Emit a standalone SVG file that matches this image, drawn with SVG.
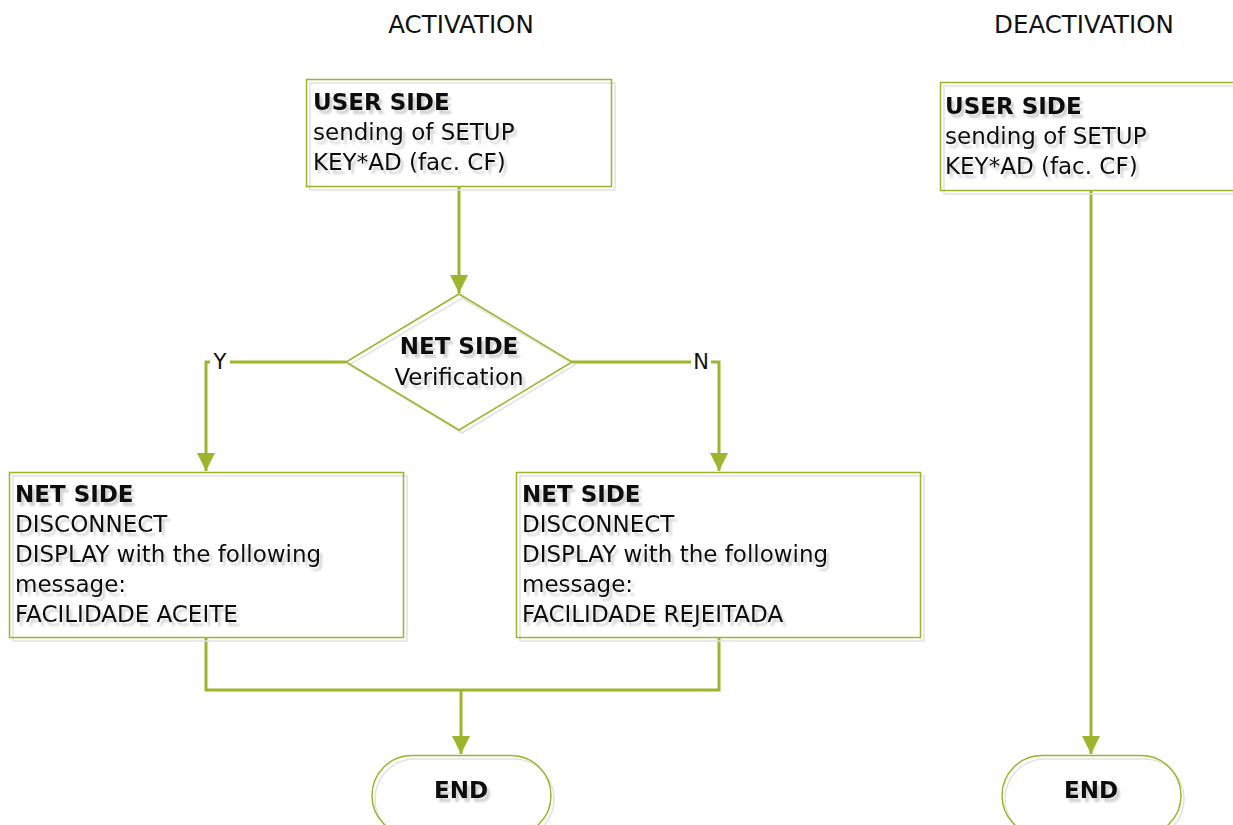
<svg xmlns="http://www.w3.org/2000/svg" width="1233" height="825" viewBox="0 0 1233 825">
<defs>
<style>
.t{font-family:"DejaVu Sans",Verdana,sans-serif;font-size:23px;fill:#111;}
.b{font-weight:bold;}
.ts{filter:url(#tsh);}
.box{fill:none;stroke:#9DB52C;stroke-width:1.5;}
.sh{fill:none;stroke:#e2e2e2;stroke-width:1.5;}
.ln{fill:none;stroke:#9DB52C;stroke-width:3;}
.lbl{font-family:"DejaVu Sans",Verdana,sans-serif;font-size:21px;fill:#111;text-anchor:middle;}
.ttl{font-family:"DejaVu Sans",Verdana,sans-serif;font-size:24.5px;fill:#111;text-anchor:middle;}
</style>
<filter id="tsh" x="-10%" y="-30%" width="130%" height="180%">
<feDropShadow dx="3" dy="4" stdDeviation="1" flood-color="#000" flood-opacity="0.18"/>
</filter>
<marker id="ah" viewBox="0 0 10 10" refX="10" refY="5" markerWidth="6.5" markerHeight="6" markerUnits="strokeWidth" orient="auto">
<path d="M0,0 L10,5 L0,10 z" fill="#9DB52C"/>
</marker>
</defs>
<rect width="1233" height="825" fill="#fff"/>
<text class="ttl" x="461" y="33">ACTIVATION</text>
<text class="ttl" x="1084" y="33">DEACTIVATION</text>

<g id="connectors">
<path class="ln" d="M459,187 L459,293" marker-end="url(#ah)"/>
<path class="ln" d="M346,362 L206,362 L206,471" marker-end="url(#ah)"/>
<path class="ln" d="M571,362 L719,362 L719,471" marker-end="url(#ah)"/>
<path class="ln" d="M206,638 L206,690 L719,690 L719,638"/>
<path class="ln" d="M461,690 L461,754" marker-end="url(#ah)"/>
<path class="ln" d="M1091,190 L1091,754" marker-end="url(#ah)"/>
<rect x="210" y="350" width="20" height="24" fill="#fff"/>
<rect x="691" y="350" width="20" height="24" fill="#fff"/>
<text class="lbl" x="220" y="369">Y</text>
<text class="lbl" x="701" y="369">N</text>
</g>

<g id="user-act">
<rect class="sh" x="310" y="83" width="305" height="107"/>
<rect class="box" x="306.5" y="79.5" width="305" height="107"/>
<g class="ts">
<text class="t b" x="313" y="110">USER SIDE</text>
<text class="t" x="313" y="140">sending of SETUP</text>
<text class="t" x="313" y="170">KEY*AD (fac. CF)</text>
</g>
</g>

<g id="decision">
<polygon class="sh" points="462,298 575,365 462,433 349,365"/>
<polygon class="box" points="459,294 572,362 459,430 346,362" fill="#fff"/>
<g class="ts">
<text class="t b" x="459" y="354" text-anchor="middle">NET SIDE</text>
<text class="t" x="459" y="385" text-anchor="middle">Verification</text>
</g>
</g>

<g id="net-yes">
<rect class="sh" x="13" y="476" width="394" height="165"/>
<rect class="box" x="9.5" y="472.5" width="394" height="165"/>
<g class="ts">
<text class="t b" x="15" y="502">NET SIDE</text>
<text class="t" x="15" y="532">DISCONNECT</text>
<text class="t" x="15" y="562">DISPLAY with the following</text>
<text class="t" x="15" y="592">message:</text>
<text class="t" x="15" y="622">FACILIDADE ACEITE</text>
</g>
</g>

<g id="net-no">
<rect class="sh" x="520" y="476" width="404" height="165"/>
<rect class="box" x="516.5" y="472.5" width="404" height="165"/>
<g class="ts">
<text class="t b" x="522" y="502">NET SIDE</text>
<text class="t" x="522" y="532">DISCONNECT</text>
<text class="t" x="522" y="562">DISPLAY with the following</text>
<text class="t" x="522" y="592">message:</text>
<text class="t" x="522" y="622">FACILIDADE REJEITADA</text>
</g>
</g>

<g id="end-act">
<rect class="sh" x="375" y="759" width="179" height="80" rx="40"/>
<rect class="box" x="372" y="755.5" width="179" height="80" rx="40" fill="#fff"/>
<text class="t b ts" x="461" y="798" text-anchor="middle">END</text>
</g>

<g id="user-deact">
<rect class="sh" x="944" y="86" width="300" height="108"/>
<rect class="box" x="940.5" y="82.5" width="300" height="108"/>
<g class="ts">
<text class="t b" x="945" y="114">USER SIDE</text>
<text class="t" x="945" y="144">sending of SETUP</text>
<text class="t" x="945" y="174">KEY*AD (fac. CF)</text>
</g>
</g>

<g id="end-deact">
<rect class="sh" x="1005" y="759" width="179" height="80" rx="40"/>
<rect class="box" x="1002" y="755.5" width="179" height="80" rx="40" fill="#fff"/>
<text class="t b ts" x="1091" y="798" text-anchor="middle">END</text>
</g>
</svg>
